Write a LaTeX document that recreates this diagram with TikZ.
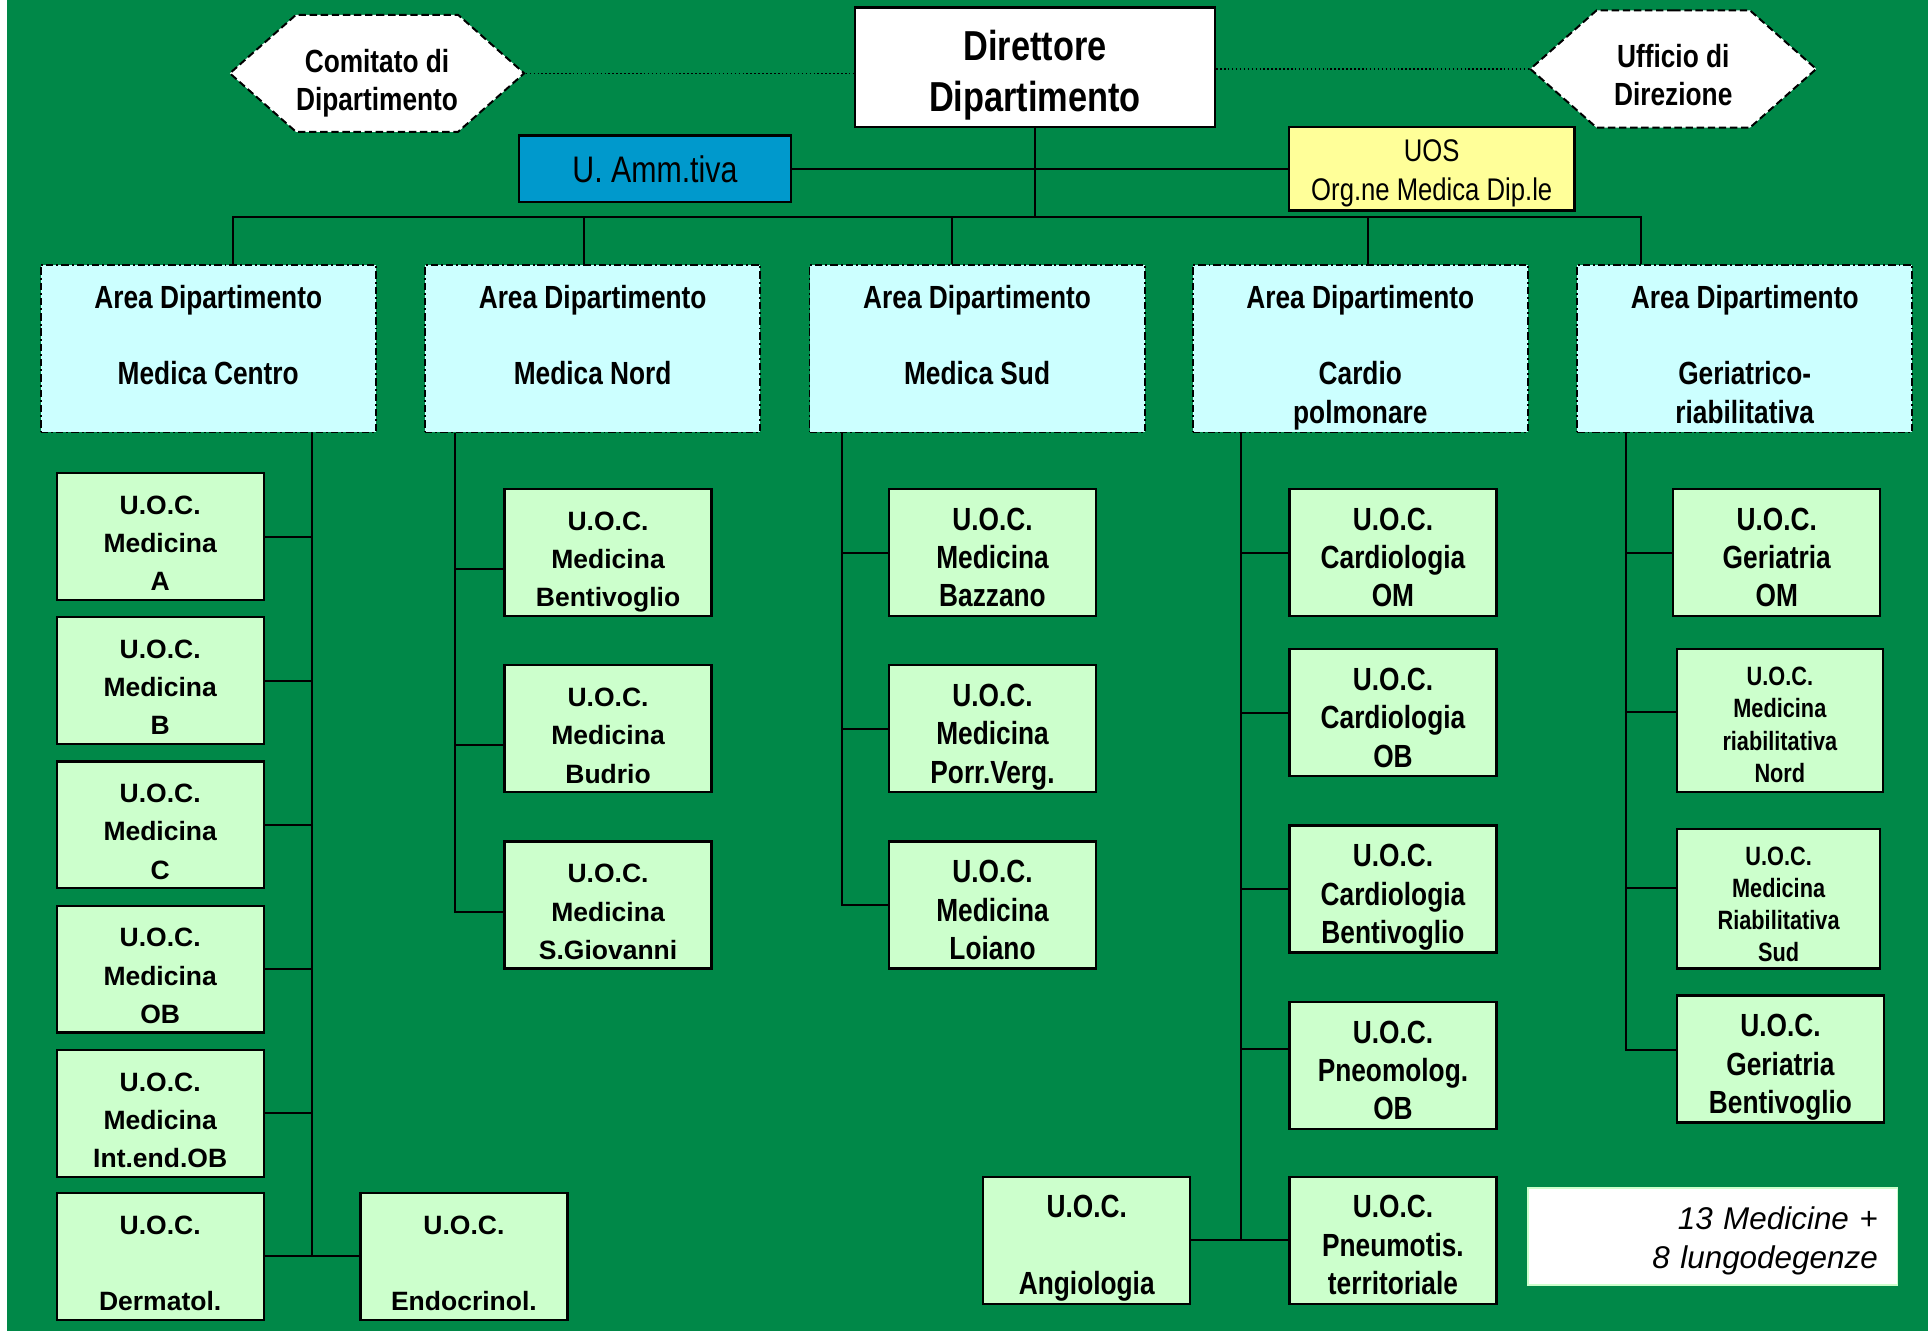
\documentclass[tikz,border=0pt]{standalone}
\usepackage{fontspec}
\setmainfont{Liberation Sans}
\newfontfamily\narrowsf[FakeStretch=0.82]{Liberation Sans}
\usepackage{tikz}
\usetikzlibrary{calc}
\usetikzlibrary{shapes,shapes.symbols,backgrounds}
\usetikzlibrary{positioning}
\definecolor{dipgreen}{RGB}{0,136,72}
\definecolor{uocgreen}{RGB}{204,255,204}
\definecolor{areacyan}{RGB}{204,255,255}
\definecolor{ammblue}{RGB}{0,153,204}
\definecolor{uosyellow}{RGB}{255,255,153}
\newcommand{\uoc}{U.O.C.}
\newcommand{\areadip}{Area Dipartimento}
\newcommand{\uocwide}{\bfseries\fontsize{10.75}{15.5}\selectfont}
\newcommand{\uocnarrow}{\narrowsf\bfseries\fontsize{13}{15.5}\selectfont}
\newcommand{\uocsmall}{\narrowsf\bfseries\fontsize{10.75}{13}\selectfont}
\newcommand{\areatxt}[1]{\parbox[c][68pt][t]{134pt}{\centering\vspace*{8.3pt}\areadip\\[15.5pt]#1}}

\begin{document}
\begin{tikzpicture}[x=0.5pt,y=-0.5pt,
        uocbox/.style={draw,line width=0.9pt,fill=uocgreen,align=center,inner sep=0pt,
          minimum width=84pt,minimum height=51.5pt,text height=44pt,text depth=0pt,font=\uocwide},
        uocn/.style={uocbox,font=\uocnarrow},
        areabox/.style={draw,line width=0.7pt,dash pattern=on 3pt off 1.2pt on 0.8pt off 1.2pt,
          fill=areacyan,inner sep=0pt,minimum width=136pt,minimum height=68pt,font=\uocnarrow},
        hexbox/.style={shape=signal,signal to=east and west,signal pointer angle=83,draw,
          line width=0.8pt,dash pattern=on 3pt off 1.5pt,fill=white,inner sep=0pt,
          minimum width=116pt,minimum height=47.5pt,align=center,font=\uocnarrow,
          text height=30pt,text depth=0pt},
        conn/.style={line width=0.8pt},
        dotconn/.style={densely dotted,line width=0.6pt}]
        \fill[white] (0,0) rectangle (1568,1080);
        \fill[dipgreen] (6,0) rectangle (1565,1080);
        \useasboundingbox (0,0) rectangle (1568,1080);

        \node[draw,line width=1pt,fill=white,minimum width=146pt,minimum height=48.5pt,align=center,
          text height=35.7pt,text depth=0pt,
          font=\narrowsf\bfseries\fontsize{17}{20.5}\selectfont] (dir) at (840,54.5) {Direttore\\Dipartimento};
        \node[hexbox] (comitato) at (306,59.5) {Comitato di\\Dipartimento};
        \node[hexbox] (ufficio) at (1358,56) {Ufficio di\\Direzione};
        \node[draw,line width=1pt,fill=ammblue,minimum width=110.5pt,minimum height=27pt,
          font=\narrowsf\fontsize{15}{18}\selectfont] (amm) at (531.5,137) {U. Amm.tiva};
        \node[draw,line width=1pt,fill=uosyellow,minimum width=116pt,minimum height=34pt,align=center,
          text height=26.1pt,text depth=0pt,
          font=\narrowsf\fontsize{12.7}{16}\selectfont] (uos) at (1162,137) {UOS\\Org.ne Medica Dip.le};

        \draw[dotconn] (comitato.east) -- (comitato.east -| dir.west);
        \draw[dotconn] (dir.east |- ufficio.west) -- (ufficio.west);
        \draw[conn] (amm.east) -- (uos.west);
        \coordinate (busL) at (189,176);
        \coordinate (busR) at (1332,176);
        \draw[conn] (dir.south) -- (dir.south |- busL);
        \draw[conn] (busL) -- (busR);

        \node[areabox] (aCentro) at (169,283) {\areatxt{Medica Centro}};
        \node[areabox] (aNord) at (481,283) {\areatxt{Medica Nord}};
        \node[areabox] (aSud) at (793,283) {\areatxt{Medica Sud}};
        \node[areabox] (aCardio) at (1104,283) {\areatxt{Cardio\\polmonare}};
        \node[areabox] (aGer) at (1416,283) {\areatxt{Geriatrico-\\riabilitativa}};
        \foreach \a/\dx in {aCentro/20,aNord/-7,aSud/-20,aCardio/6,aGer/-84}
          \draw[conn] ($(\a.north)+(\dx,0)$) -- ++(0,-39);

        \node[uocbox] (mA) at (130,435.5) {\uoc\\Medicina\\A};
        \node[uocbox] (mB) at (130,552.5) {\uoc\\Medicina\\B};
        \node[uocbox] (mC) at (130,669.5) {\uoc\\Medicina\\C};
        \node[uocbox] (mOB) at (130,786.5) {\uoc\\Medicina\\OB};
        \node[uocbox] (mInt) at (130,903.5) {\uoc\\Medicina\\Int.end.OB};
        \node[uocbox] (mDerm) at (130,1019.5) {\uoc\\[15.5pt]Dermatol.};
        \node[uocbox] (mEndo) at (376.5,1019.5) {\uoc\\[15.5pt]Endocrinol.};
        \coordinate (t1) at ($(aCentro.south)+(84,0)$);
        \draw[conn] (t1) |- (mDerm.east);
        \foreach \n in {mA,mB,mC,mOB,mInt}
          \draw[conn] (\n.east) -- (\n.east -| t1);
        \draw[conn] (mDerm.east) -- (mEndo.west);

        \node[uocbox] (mBent) at (493.5,448.5) {\uoc\\Medicina\\Bentivoglio};
        \node[uocbox] (mBud) at (493.5,591.5) {\uoc\\Medicina\\Budrio};
        \node[uocbox] (mSGio) at (493.5,734.5) {\uoc\\Medicina\\S.Giovanni};
        \coordinate (t2) at ($(aNord.south)+(-112,0)$);
        \coordinate (cSGio) at ([yshift=-2.75pt]mSGio.west);
        \draw[conn] (t2) |- (cSGio);
        \foreach \n in {mBent,mBud} {
          \coordinate (c) at ([yshift=-6.5pt]\n.west);
          \draw[conn] (c) -- (c -| t2);
        }

        \node[uocn] (mBaz) at (805.5,448.5) {\uoc\\Medicina\\Bazzano};
        \node[uocn] (mPorr) at (805.5,591.5) {\uoc\\Medicina\\Porr.Verg.};
        \node[uocn] (mLoi) at (805.5,734.5) {\uoc\\Medicina\\Loiano};
        \coordinate (t3) at ($(aSud.south)+(-110,0)$);
        \draw[conn] (t3) |- (mLoi.west);
        \foreach \n in {mBaz,mPorr}
          \draw[conn] (\n.west) -- (\n.west -| t3);

        \node[uocn] (mCOM) at (1130.5,448.5) {\uoc\\Cardiologia\\OM};
        \node[uocn] (mCOB) at (1130.5,578.5) {\uoc\\Cardiologia\\OB};
        \node[uocn] (mCBent) at (1130.5,721.5) {\uoc\\Cardiologia\\Bentivoglio};
        \node[uocn] (mPneu) at (1130.5,864.5) {\uoc\\Pneomolog.\\OB};
        \node[uocn] (mPnt) at (1130.5,1006.5) {\uoc\\Pneumotis.\\territoriale};
        \node[uocn] (mAngio) at (882,1006.5) {\uoc\\[15.5pt]Angiologia};
        \coordinate (t4) at ($(aCardio.south)+(-97,0)$);
        \draw[conn] (t4) |- (mPnt.west);
        \foreach \n in {mCOM,mCOB,mCBent}
          \draw[conn] (\n.west) -- (\n.west -| t4);
        \coordinate (cPneu) at ([yshift=6.75pt]mPneu.west);
        \draw[conn] (cPneu) -- (cPneu -| t4);
        \draw[conn] (mAngio.east) -- (mAngio.east -| t4);

        \node[uocn] (mGOM) at (1442,448.5) {\uoc\\Geriatria\\OM};
        \node[uocbox,font=\uocsmall,minimum width=83.5pt,minimum height=58pt,text height=49.7pt]
          (mRNord) at (1444.5,585) {\uoc\\Medicina\\riabilitativa\\Nord};
        \node[uocbox,font=\uocsmall,minimum width=82.5pt,minimum height=56.5pt,text height=51.2pt]
          (mRSud) at (1443.5,729.5) {\uoc\\Medicina\\Riabilitativa\\Sud};
        \node[uocn] (mGBent) at (1445,859.5) {\uoc\\Geriatria\\Bentivoglio};
        \coordinate (t5) at ($(aGer.south)+(-96,0)$);
        \coordinate (cGBent) at ([yshift=3.75pt]mGBent.west);
        \draw[conn] (t5) |- (cGBent);
        \draw[conn] (mGOM.west) -- (mGOM.west -| t5);
        \foreach \n/\dy in {mRNord/3.5,mRSud/4.25} {
          \coordinate (c) at ([yshift=\dy pt]\n.west);
          \draw[conn] (c) -- (c -| t5);
        }

        \node[draw=uocgreen,line width=0.6pt,fill=white,text width=134pt,inner xsep=8pt,
          minimum height=39.5pt,text height=10pt,text depth=15.4pt,align=right,
          font=\itshape\fontsize{12.75}{15.5}\selectfont] (nota)
          at (1390,1003.5) {13 Medicine +\\8 lungodegenze};
      \end{tikzpicture}
\end{document}
